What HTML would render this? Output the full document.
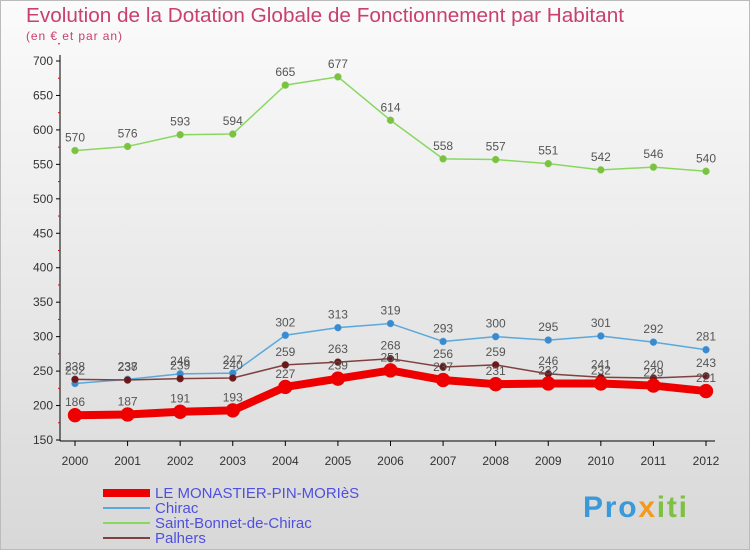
<!DOCTYPE html>
<html><head><meta charset="utf-8"><style>
body{margin:0;width:750px;height:550px;overflow:hidden;font-family:"Liberation Sans",sans-serif}
#bg{position:absolute;left:0;top:0;width:750px;height:550px;background:linear-gradient(#fbfbfb,#d8d8d8);border:1px solid #bbb;box-sizing:border-box}
</style></head><body>
<div id="bg"></div>
<svg id="c" width="750" height="550" style="position:absolute;left:0;top:0">
<text x="26" y="22" font-size="20" fill="#c8406e" textLength="598" lengthAdjust="spacingAndGlyphs">Evolution de la Dotation Globale de Fonctionnement par Habitant</text>
<text x="26" y="40" font-size="12" fill="#c8406e" textLength="96">(en € et par an)</text>
<g id="axes"></g><g id="series"></g><g id="legend"></g>
<text x="583" y="517" font-size="30" font-weight="bold" fill="#3a9ad9" textLength="104">Pro<tspan fill="#f39a1e">x</tspan><tspan fill="#7cc142">iti</tspan></text>
</svg>
<script>
const years=[2000,2001,2002,2003,2004,2005,2006,2007,2008,2009,2010,2011,2012];
const yTicks=[150,200,250,300,350,400,450,500,550,600,650,700];
const monastier=[186,187,191,193,227,239,251,237,231,232,232,229,221];
const chirac=[232,238,246,247,302,313,319,293,300,295,301,292,281];
const stBonnet=[570,576,593,594,665,677,614,558,557,551,542,546,540];
const palhers=[238,237,239,240,259,263,268,256,259,246,241,240,243];
const NS='http://www.w3.org/2000/svg';
const x=i=>75+i*(706-75)/12;
const y=v=>440-(v-150)*(440-61)/550;
function mk(t,a,p){const e=document.createElementNS(NS,t);for(const k in a)e.setAttribute(k,a[k]);p.appendChild(e);return e;}
const ax=document.getElementById('axes');
let l=mk('line',{x1:60,y1:55,x2:60,y2:441,stroke:'#000'},ax);


l=mk('line',{x1:60,y1:441,x2:715,y2:441,stroke:'#000'},ax);


yTicks.forEach(v=>{
 mk('line',{x1:56,y1:y(v),x2:60,y2:y(v),stroke:'#000'},ax);
 mk('line',{x1:58,y1:y(v+25),x2:60,y2:y(v+25),stroke:'#e00'},ax);
 const t=mk('text',{x:53,y:y(v)+4,'font-size':12,'text-anchor':'end',fill:'#333'},ax);t.textContent=v;
 
 
});
years.forEach((yr,i)=>{
 mk('line',{x1:x(i),y1:441,x2:x(i),y2:446,stroke:'#000'},ax);
 const t=mk('text',{x:x(i),y:465,'font-size':12,'text-anchor':'middle',fill:'#333'},ax);t.textContent=yr;
 
 
});
const S=document.getElementById('series');
function draw(data,color,w,r,name,dot){
 const g=mk('g',{},S);
 
 
 mk('polyline',{points:data.map((v,i)=>x(i)+','+y(v)).join(' '),fill:'none',stroke:color,'stroke-width':w,'stroke-linejoin':'round'},g);
 data.forEach((v,i)=>{
  const c=mk('circle',{cx:x(i),cy:y(v),r:r,fill:dot,stroke:color,'stroke-width':0.5},g);
  
  
  const t=mk('text',{x:x(i),y:y(v)-9,'font-size':12,'text-anchor':'middle',fill:'#555'},g);t.textContent=v;
  
  
 });
}
draw(stBonnet,'#88d860',1.5,3.5,'series-saint-bonnet','#7cc142');
draw(chirac,'#5aa8dc',1.5,3.5,'series-chirac','#3a8ad0');
draw(palhers,'#804040',1.5,3.5,'series-palhers','#6a1818');
draw(monastier,'#ee0000',8,7,'series-le-monastier','#ee0000');
const L=document.getElementById('legend');
const leg=[['LE MONASTIER-PIN-MORIèS','#ee0000',8],['Chirac','#5aa8dc',2],['Saint-Bonnet-de-Chirac','#88d860',2],['Palhers','#804040',2]];
leg.forEach((e,i)=>{
 const g=mk('g',{},L);
 
 
 const yy=493+i*15;
 mk('line',{x1:103,y1:yy,x2:150,y2:yy,stroke:e[1],'stroke-width':e[2]},g);
 const t=mk('text',{x:155,y:yy+5,'font-size':15,fill:'#5050e0'},g);t.textContent=e[0];
});
</script>
</body></html>
